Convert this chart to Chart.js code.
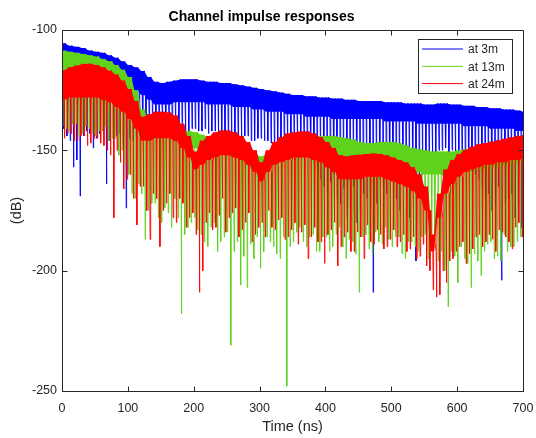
<!DOCTYPE html>
<html>
<head>
<meta charset="utf-8">
<script src="https://cdn.jsdelivr.net/npm/chart.js@4/dist/chart.umd.min.js"></script>
<style>
  html, body { margin: 0; padding: 0; background: #fff; }
</style>
</head>
<body>
<canvas id="cir" width="536" height="438"></canvas>
<script>
// sample grid, 10 ns per cell
const times = [0,10,20,30,40,50,60,70,80,90,100,110,120,130,140,150,160,170,180,190,
  200,210,220,230,240,250,260,270,280,290,300,310,320,330,340,350,360,370,380,390,
  400,410,420,430,440,450,460,470,480,490,500,510,520,530,540,550,560,570,580,590,
  600,610,620,630,640,650,660,670,680,690,700];

const seriesLabels = ["at 3m", "at 13m", "at 24m"];
const xTicks = [0, 100, 200, 300, 400, 500, 600, 700];
const yTicks = [-250, -200, -150, -100];

// at 3m
const blueTop = [
  -105.5,-106.5,-107,-107.5,-108.5,-109,-109.5,-110.5,-111.5,-113,
  -114.5,-115.5,-117,-119.5,-121.5,-122,-121.5,-121,-120.5,-120.5,
  -120.5,-121,-121.5,-121.5,-122,-122,-122.5,-123,-123.5,-124,
  -124.5,-125,-125.5,-126,-126.5,-127,-127,-127.5,-127.5,-128,
  -128,-128.5,-128.5,-129,-129,-129.5,-129.5,-129.5,-129.5,-130,
  -130,-130,-130.5,-130.5,-130.5,-131,-131,-130.5,-130.5,-131,
  -131,-131.5,-131.5,-132,-132,-132.5,-132.5,-133,-133,-133.5,
  -134];
const blueBand = [
  -116,-117,-118,-118,-119,-120,-120,-121,-122,-123,
  -124,-125,-127,-129,-131,-131,-131,-130,-130,-130,
  -130,-130,-131,-131,-131,-131,-132,-132,-132,-133,
  -133,-134,-134,-134,-135,-135,-135,-136,-136,-136,
  -136,-137,-137,-137,-137,-137,-137,-137,-137,-138,
  -138,-138,-138,-138,-139,-139,-139,-139,-139,-139,
  -139,-140,-140,-140,-140,-141,-141,-141,-141,-142,
  -142];
const blueDipA = [
  -141,-146,-154,-144,-143,-145,-142,-146,-144,-147,
  -145,-144,-142,-141,-142,-140,-141,-142,-141,-142,
  -141,-142,-143,-142,-143,-144,-143,-145,-144,-146,
  -145,-146,-147,-146,-148,-147,-148,-150,-155,-162,
  -168,-160,-172,-178,-165,-175,-170,-209,-162,-168,
  -160,-175,-166,-158,-163,-157,-152,-150,-149,-150,
  -152,-155,-158,-162,-170,-175,-165,-172,-168,-173,
  -160];
const blueDipB = [
  -144,-157,-169,-142,-149,-143,-164,-145,-143,-174,
  -146,-143,-141,-142,-140,-141,-142,-140,-142,-141,
  -142,-141,-142,-143,-142,-144,-145,-144,-146,-145,
  -146,-147,-146,-148,-147,-149,-148,-152,-158,-165,
  -163,-170,-166,-174,-180,-168,-185,-172,-165,-160,
  -170,-163,-178,-196,-160,-155,-151,-150,-151,-153,
  -154,-157,-160,-165,-168,-172,-204,-170,-178,-182,
  -160];

// at 13m
const greenTop = [
  -108.6,-109,-109.5,-110,-110.5,-111,-112,-113,-114.5,-116.5,
  -119.5,-125,-133,-138,-140,-141,-141.5,-142,-142,-142,
  -142.5,-143.5,-144.5,-145.5,-146.5,-147.5,-148.5,-149.5,-150.5,-151.5,
  -152.5,-151,-149,-147,-146,-145.5,-145,-144.5,-144.3,-144,
  -144,-144,-144.5,-145,-145.5,-146.5,-147,-147,-146.5,-146.5,
  -146.5,-147,-148,-149,-149.5,-150,-150.5,-150.5,-150.5,-150.5,
  -150,-149.5,-149,-148.5,-148,-147.5,-147,-146.5,-146,-145.5,
  -145];
const greenBand = [
  -119,-119,-120,-120,-121,-121,-122,-123,-124,-126,
  -129,-134,-140,-144,-145,-145,-145,-146,-148,-149,
  -149,-149.5,-150,-150.5,-151,-152,-153,-154.5,-156,-157.5,
  -159.5,-158,-156,-154,-153,-153,-153,-153,-153,-153,
  -154,-154,-154,-155,-155,-156,-157,-157,-156,-156,
  -156,-157,-158,-159,-159,-160,-160,-160,-161,-161,
  -160,-159,-159,-158,-158,-157,-157,-156,-156,-155,
  -155];
const greenDipA = [
  -140,-142,-139,-143,-141,-144,-142,-146,-145,-150,
  -160,-170,-168,-175,-172,-180,-176,-170,-218,-182,
  -178,-185,-190,-180,-188,-184,-192,-206,-207,-195,
  -199,-186,-190,-195,-248,-188,-182,-190,-185,-192,
  -186,-190,-182,-195,-188,-209,-185,-193,-188,-182,
  -190,-186,-195,-188,-192,-185,-190,-196,-200,-192,
  -205,-195,-207,-196,-192,-188,-194,-185,-190,-188,
  -180];
const greenDipB = [
  -141,-139,-144,-140,-143,-142,-140,-145,-152,-156,
  -168,-164,-187,-172,-178,-174,-182,-178,-185,-180,
  -183,-188,-182,-192,-186,-231,-188,-194,-189,-186,
  -192,-188,-193,-186,-190,-184,-188,-186,-192,-186,
  -192,-185,-190,-187,-193,-186,-191,-184,-189,-187,
  -186,-193,-188,-190,-186,-195,-188,-192,-215,-194,
  -190,-197,-193,-202,-189,-195,-196,-192,-190,-186,
  -180];

// at 24m
const redTop = [
  -116.6,-115.5,-114.8,-114.1,-114,-114.5,-115.5,-116.9,-118.5,-121,
  -124.5,-129.5,-136,-135,-134,-134,-134.3,-135.5,-139,-144,
  -150.5,-146,-144,-142.5,-141.8,-141.8,-142.5,-144,-146.5,-150,
  -155,-150,-146.5,-144.5,-143,-142.5,-142.2,-142.2,-143,-144.5,
  -146.5,-149,-152,-152.5,-152,-151.8,-151.5,-151.3,-151.5,-152,
  -153,-154,-155,-157,-160,-165,-185,-168,-158,-154,
  -151.5,-149.8,-148.5,-147.5,-147,-146.4,-145.8,-145.2,-144.6,-144,
  -143.6];
const redBand = [
  -129,-128,-128,-128,-128,-128,-129,-130,-132,-134,
  -137,-141,-146,-146,-145,-145,-145,-146,-149,-153,
  -158,-156,-154,-153,-152,-152,-153,-154,-156,-159,
  -163,-159,-156,-155,-154,-153,-153,-153,-154,-155,
  -157,-159,-162,-162,-162,-162,-161,-161,-161,-162,
  -163,-164,-165,-167,-170,-175,-192,-178,-168,-164,
  -161,-159,-158,-157,-156,-156,-155,-155,-154,-154,
  -153];
const redDipA = [
  -145,-143,-146,-144,-147,-145,-148,-152,-150,-166,
  -160,-181,-165,-187,-170,-175,-168,-180,-172,-178,
  -185,-200,-176,-182,-170,-178,-174,-183,-176,-185,
  -180,-175,-183,-178,-186,-180,-184,-195,-182,-188,
  -185,-180,-190,-184,-192,-186,-181,-189,-185,-190,
  -183,-188,-192,-186,-194,-198,-208,-210,-205,-195,
  -190,-197,-191,-185,-188,-187,-183,-186,-191,-180,
  -175];
const redDipB = [
  -143,-146,-144,-148,-145,-147,-150,-178,-155,-162,
  -170,-165,-175,-168,-190,-172,-178,-170,-182,-176,
  -209,-180,-183,-177,-184,-176,-186,-180,-188,-182,
  -186,-182,-179,-187,-183,-189,-181,-186,-188,-197,
  -183,-198,-186,-192,-184,-195,-188,-183,-191,-187,
  -190,-185,-191,-195,-189,-200,-211,-200,-196,-192,
  -188,-193,-186,-190,-185,-192,-184,-188,-182,-186,
  -175];

// two ripples per 10 ns cell: crest, shoulder, notch, shoulder
// ph = where the notch sits inside each 5 ns ripple
function ripple(top, band, dipA, dipB, ph) {
  const pts = [];
  for (let i = 0; i < times.length - 1; i++) {
    const t = times[i];
    pts.push({ x: t, y: top[i] });
    pts.push({ x: t + ph - 0.6, y: band[i] });
    pts.push({ x: t + ph, y: dipA[i] });
    pts.push({ x: t + ph + 0.6, y: band[i] });
    pts.push({ x: t + 5, y: top[i] });
    pts.push({ x: t + 5 + ph - 0.6, y: band[i] });
    pts.push({ x: t + 5 + ph, y: dipB[i] });
    pts.push({ x: t + 5 + ph + 0.6, y: band[i] });
  }
  const n = times.length - 1;
  pts.push({ x: times[n], y: top[n] });
  return pts;
}

// outline of the dense part (crest line or shoulder line)
function edge(vals) {
  const pts = [];
  for (let i = 0; i < times.length - 1; i++) {
    pts.push({ x: times[i], y: vals[i] });
    pts.push({ x: times[i] + 5, y: vals[i] });
  }
  const n = times.length - 1;
  pts.push({ x: times[n], y: vals[n] });
  return pts;
}

const colores = ["#0000ff", "#5fd31c", "#ff0000"];
const fases = [2.5, 1.3, 3.7];
const ink = "#262626";
const clear = "rgba(0,0,0,0)";

function serie(k, top, band, dipA, dipB) {
  const ord = 3 - k;
  return [
    { label: seriesLabels[k] + " band", data: edge(top), borderColor: clear, backgroundColor: colores[k], fill: "+1", order: ord },
    { label: seriesLabels[k] + " floor", data: edge(band), borderColor: clear, fill: false, order: ord },
    { label: seriesLabels[k], data: ripple(top, band, dipA, dipB, fases[k]), borderColor: colores[k], borderWidth: 0.9, fill: false, order: ord },
  ];
}

// frame, inward ticks on all four sides and the legend box
const marco = {
  id: "marco",
  afterDraw(chart) {
    const { ctx, chartArea: a, scales } = chart;
    const L = Math.round(a.left) + 0.5, R = Math.round(a.right) + 0.5;
    const T = Math.round(a.top) + 0.5, B = Math.round(a.bottom) + 0.5;
    ctx.save();
    ctx.strokeStyle = ink;
    ctx.lineWidth = 1;
    ctx.beginPath();
    ctx.rect(L, T, R - L, B - T);
    xTicks.forEach((v) => {
      const p = Math.round(scales.x.getPixelForValue(v)) + 0.5;
      ctx.moveTo(p, B); ctx.lineTo(p, B - 5);
      ctx.moveTo(p, T); ctx.lineTo(p, T + 5);
    });
    yTicks.forEach((v) => {
      const p = Math.round(scales.y.getPixelForValue(v)) + 0.5;
      ctx.moveTo(L, p); ctx.lineTo(L + 5, p);
      ctx.moveTo(R, p); ctx.lineTo(R - 5, p);
    });
    ctx.stroke();

    // legend
    ctx.fillStyle = "#fff";
    ctx.fillRect(418.5, 39.5, 94, 54);
    ctx.strokeRect(418.5, 39.5, 94, 54);
    ctx.font = "12px 'Liberation Sans', Arial, sans-serif";
    ctx.textBaseline = "middle";
    seriesLabels.forEach((lab, i) => {
      const yy = 49 + i * 17.3;
      ctx.strokeStyle = colores[i];
      ctx.beginPath();
      ctx.moveTo(422, yy);
      ctx.lineTo(463, yy);
      ctx.stroke();
      ctx.fillStyle = ink;
      ctx.fillText(lab, 468, yy + 1);
    });
    ctx.restore();
  }
};

Chart.defaults.font.family = "'Liberation Sans', Arial, sans-serif";
Chart.defaults.color = ink;

new Chart(document.getElementById("cir").getContext("2d"), {
  type: "line",
  data: {
    datasets: [
      ...serie(0, blueTop, blueBand, blueDipA, blueDipB),
      ...serie(1, greenTop, greenBand, greenDipA, greenDipB),
      ...serie(2, redTop, redBand, redDipA, redDipB),
    ],
  },
  options: {
    responsive: false,
    animation: false,
    parsing: false,
    normalized: true,
    elements: {
      line: { borderWidth: 1, tension: 0 },
      point: { radius: 0, hoverRadius: 0 },
    },
    layout: { padding: { left: 0, right: 13, top: 0, bottom: 0 } },
    plugins: {
      legend: { display: false },
      tooltip: { enabled: false },
      title: {
        display: true,
        text: "Channel impulse responses",
        font: { size: 14, weight: "bold" },
        padding: { top: 9, bottom: 4.2 },
        color: "#000",
      },
    },
    scales: {
      x: {
        type: "linear",
        min: 0,
        max: 700,
        afterBuildTicks: (s) => { s.ticks = xTicks.map((v) => ({ value: v })); },
        afterFit: (s) => { s.height = 47; s.paddingLeft = 0; s.paddingRight = 0; },
        grid: { display: false, drawTicks: false, tickLength: 0 },
        border: { display: false },
        ticks: { font: { size: 12.5 }, padding: 10, maxRotation: 0, color: ink },
        title: { display: true, text: "Time (ns)", font: { size: 14.5 }, padding: { top: 2, bottom: 2 }, color: ink },
      },
      y: {
        type: "linear",
        min: -250,
        max: -100,
        afterBuildTicks: (s) => { s.ticks = yTicks.map((v) => ({ value: v })); },
        afterFit: (s) => { s.width = 62; },
        grid: { display: false, drawTicks: false, tickLength: 0 },
        border: { display: false },
        ticks: { font: { size: 12.5 }, padding: 5, color: ink },
        title: { display: true, text: "(dB)", font: { size: 14.5 }, padding: { top: 8, bottom: 0 }, color: ink },
      },
    },
  },
  plugins: [marco],
});
</script>
</body>
</html>
